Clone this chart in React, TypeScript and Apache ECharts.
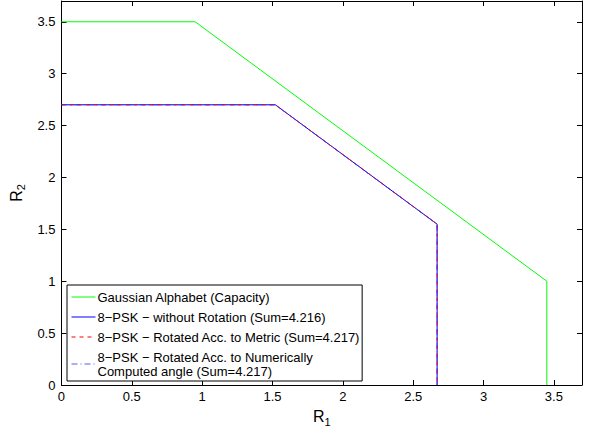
import React, { useEffect, useRef } from "react";
import * as echarts from "echarts";

const gaussianX = [0, 0.95, 3.45, 3.45];
const gaussianY = [3.5, 3.5, 1.0, 0];
const pskX = [0, 1.52, 2.67, 2.67];
const pskY = [2.7, 2.7, 1.55, 0];
const xTicks = [0, 0.5, 1, 1.5, 2, 2.5, 3, 3.5];
const yTicks = [0, 0.5, 1, 1.5, 2, 2.5, 3, 3.5];
const names = [
  "Gaussian Alphabet (Capacity)",
  "8\u2212PSK \u2212 without Rotation (Sum=4.216)",
  "8\u2212PSK \u2212 Rotated Acc. to Metric (Sum=4.217)",
  "8\u2212PSK \u2212 Rotated Acc. to Numerically\nComputed angle (Sum=4.217)",
];

const zip = (xs: number[], ys: number[]) => xs.map((x, i) => [x, ys[i]]);

export default function App() {
  const ref = useRef<HTMLDivElement>(null);
  useEffect(() => {
    if (!ref.current) return;
    const chart = echarts.init(ref.current, undefined, { renderer: "svg" });
    const font = "Liberation Sans, Arial, Helvetica, sans-serif";
    const axisCommon = {
      type: "value" as const,
      min: 0,
      max: 3.7,
      interval: 0.5,
      splitLine: { show: false },
      axisLine: { show: true, onZero: false, lineStyle: { color: "#000", width: 1 } },
      axisTick: { show: true, inside: true, length: 5, lineStyle: { color: "#000" } },
    };
    const subName = {
      rich: {
        a: { fontSize: 16, color: "#000", fontFamily: font },
        b: { fontSize: 11, color: "#000", fontFamily: font, padding: [10, 0, 0, 0] },
      },
    };
    chart.setOption({
      animation: false,
      textStyle: { fontFamily: font },
      grid: { left: 60, right: 10, top: 1, bottom: 40, containLabel: false },
      xAxis: [
        {
          ...axisCommon,
          position: "bottom",
          axisLabel: {
            color: "#000",
            fontSize: 13,
            fontFamily: font,
            margin: 5,
            showMaxLabel: false,
            formatter: (v: number) => (xTicks.includes(v) ? String(v) : ""),
          },
          name: "{a|R}{b|1}",
          nameLocation: "middle",
          nameGap: 21,
          nameTextStyle: subName,
        },
        { ...axisCommon, position: "top", axisLabel: { show: false } },
      ],
      yAxis: [
        {
          ...axisCommon,
          position: "left",
          axisLabel: {
            color: "#000",
            fontSize: 13,
            fontFamily: font,
            margin: 6,
            showMaxLabel: false,
            formatter: (v: number) => (yTicks.includes(v) ? String(v) : ""),
          },
          name: "{a|R}{b|2}",
          nameLocation: "middle",
          nameGap: 34,
          nameRotate: 90,
          nameTextStyle: subName,
        },
        { ...axisCommon, position: "right", axisLabel: { show: false } },
      ],
      legend: {
        orient: "vertical",
        left: 67,
        top: 285,
        backgroundColor: "#fff",
        borderColor: "#000",
        borderWidth: 1,
        borderRadius: 0,
        padding: [5, 2, 3, 4],
        itemGap: 6,
        itemWidth: 24,
        itemHeight: 15,
        itemStyle: { opacity: 0, borderWidth: 0 },
        lineStyle: { width: 1 },
        textStyle: { color: "#000", fontSize: 13, fontFamily: font, padding: [0, 0, 0, -3], lineHeight: 14 },
        data: names,
      },
      series: [
        {
          name: names[0],
          type: "line",
          data: zip(gaussianX, gaussianY),
          symbol: "none",
          lineStyle: { color: "#00ff00", width: 1 },
          itemStyle: { color: "#00ff00" },
        },
        {
          name: names[1],
          type: "line",
          data: zip(pskX, pskY),
          symbol: "none",
          lineStyle: { color: "#0000ff", width: 1 },
          itemStyle: { color: "#0000ff" },
        },
        {
          name: names[2],
          type: "line",
          data: zip(pskX, pskY),
          symbol: "none",
          lineStyle: { color: "#ff0000", width: 1, type: [4, 4] },
          itemStyle: { color: "#ff0000" },
        },
        {
          name: names[3],
          type: "line",
          data: zip(pskX, pskY),
          symbol: "none",
          lineStyle: { color: "#3333ff", width: 1, type: [6, 3, 1, 3], opacity: 0.8 },
          itemStyle: { color: "#3333ff" },
        },
      ],
    });
    return () => chart.dispose();
  }, []);
  return <div ref={ref} style={{ width: 592, height: 432, position: "absolute", left: 0, top: 0, background: "#fff" }} />;
}
